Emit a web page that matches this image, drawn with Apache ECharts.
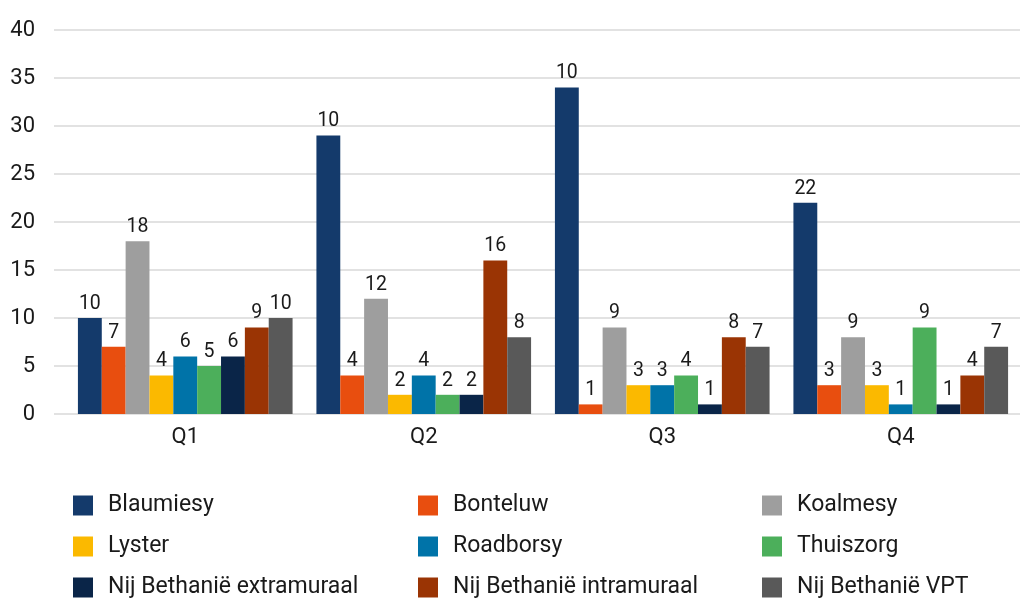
<!DOCTYPE html>
<html>
<head>
<meta charset="utf-8">
<script src="https://cdn.jsdelivr.net/npm/echarts@6/dist/echarts.min.js"></script>
<style>html,body{margin:0;padding:0;background:#fff}#c{width:1025px;height:600px}</style>
</head>
<body>
<div id="c"></div>
<script>
const categories = ['Q1', 'Q2', 'Q3', 'Q4'];
const seriesNames = ['Blaumiesy', 'Bonteluw', 'Koalmesy', 'Lyster', 'Roadborsy', 'Thuiszorg',
  'Nij Bethanië extramuraal', 'Nij Bethanië intramuraal', 'Nij Bethanië VPT'];
const colors = ['#143a6b', '#e84e0f', '#9e9e9e', '#fbb900', '#0073a8', '#4caf5b', '#0a2548', '#9a3404', '#595959'];

// bar heights
const blaumiesy = [10, 29, 34, 22];
const bonteluw = [7, 4, 1, 3];
const koalmesy = [18, 12, 9, 8];
const lyster = [4, 2, 3, 3];
const roadborsy = [6, 4, 3, 1];
const thuiszorg = [5, 2, 4, 9];
const extramuraal = [6, 2, 1, 1];
const intramuraal = [9, 16, 8, 4];
const vpt = [10, 8, 7, 7];

// data labels as printed on the chart
const blaumiesyLabels = [10, 10, 10, 22];
const bonteluwLabels = [7, 4, 1, 3];
const koalmesyLabels = [18, 12, 9, 9];
const lysterLabels = [4, 2, 3, 3];
const roadborsyLabels = [6, 4, 3, 1];
const thuiszorgLabels = [5, 2, 4, 9];
const extramuraalLabels = [6, 2, 1, 1];
const intramuraalLabels = [9, 16, 8, 4];
const vptLabels = [10, 8, 7, 7];

const yTicks = [0, 5, 10, 15, 20, 25, 30, 35, 40];

const values = [blaumiesy, bonteluw, koalmesy, lyster, roadborsy, thuiszorg, extramuraal, intramuraal, vpt];
const labels = [blaumiesyLabels, bonteluwLabels, koalmesyLabels, lysterLabels, roadborsyLabels,
  thuiszorgLabels, extramuraalLabels, intramuraalLabels, vptLabels];

const FONT = 'Roboto';
const TXT = '#1a1a1a';

const chart = echarts.init(document.getElementById('c'), null, {renderer: 'canvas'});

const legendCols = [[0, 3, 6], [1, 4, 7], [2, 5, 8]];
const legendLeft = [73, 418, 762];

const option = {
  animation: false,
  grid: [
    {left: 66, right: 5, top: 30, bottom: 186},
    {left: 54, right: 5, top: 30, bottom: 186}
  ],
  xAxis: [
    {type: 'category', gridIndex: 0, data: categories,
      axisLine: {show: false}, axisTick: {show: false},
      axisLabel: {color: TXT, fontFamily: FONT, fontSize: 22, margin: 12}},
    {type: 'category', gridIndex: 1, data: categories, show: false}
  ],
  yAxis: [
    {type: 'value', gridIndex: 0, min: 0, max: 40, interval: 5, show: false, splitLine: {show: false}},
    {type: 'value', gridIndex: 1, min: 0, max: 40, interval: 5,
      axisLine: {show: false}, axisTick: {show: false},
      splitLine: {lineStyle: {color: '#d9d9d9', width: 1.5}},
      axisLabel: {color: TXT, fontFamily: FONT, fontSize: 22, margin: 19,
        padding: [0, 0, 14, 0],
        formatter: v => yTicks.includes(v) ? String(v) : ''}}
  ],
  legend: legendCols.map((col, i) => ({
    orient: 'vertical', left: legendLeft[i], top: 494, padding: 0,
    itemWidth: 20, itemHeight: 20, itemGap: 18, icon: 'rect',
    data: col.map(k => seriesNames[k]),
    textStyle: {color: TXT, fontFamily: FONT, fontSize: 23, padding: [0, 0, 0, 10]}
  })),
  series: seriesNames.map((name, k) => ({
    name, type: 'bar', xAxisIndex: 0, yAxisIndex: 0,
    barGap: '0%', barCategoryGap: '10%',
    itemStyle: {color: colors[k]},
    label: {show: true, position: 'top', distance: 4, color: TXT, fontFamily: FONT, fontSize: 19.5,
      formatter: p => String(labels[k][p.dataIndex])},
    data: values[k]
  }))
};
chart.setOption(option);
</script>
</body>
</html>
